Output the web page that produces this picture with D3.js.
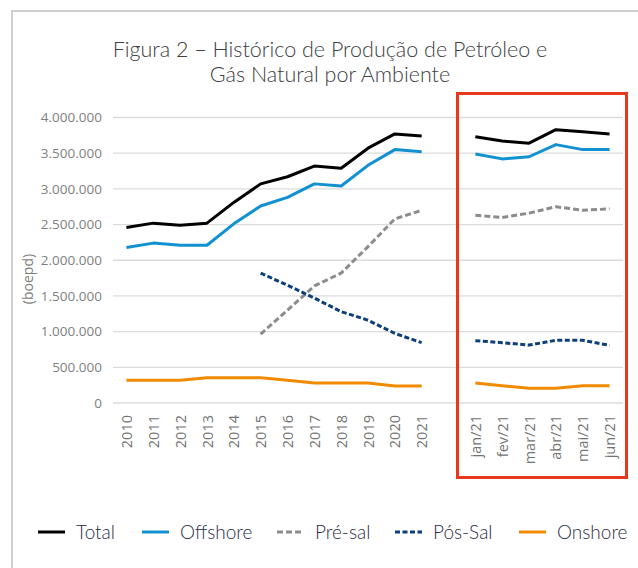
<!DOCTYPE html>
<html>
<head>
<meta charset="utf-8">
<script src="https://cdn.jsdelivr.net/npm/d3@7"></script>
<style>
  body { margin: 0; background: #fff; }
  svg { display: block; }
</style>
</head>
<body>
<div id="vis"></div>
<script>
// chart data
const years = ["2010", "2011", "2012", "2013", "2014", "2015", "2016", "2017", "2018", "2019", "2020", "2021"];
const months = ["jan/21", "fev/21", "mar/21", "abr/21", "mai/21", "jun/21"];

// yearly values (boepd); null = no data
const totalYears    = [2460000, 2520000, 2490000, 2520000, 2810000, 3070000, 3170000, 3320000, 3290000, 3570000, 3770000, 3740000];
const offshoreYears = [2180000, 2240000, 2210000, 2210000, 2510000, 2760000, 2880000, 3070000, 3040000, 3330000, 3550000, 3520000];
const preSalYears   = [null, null, null, null, null, 965000, 1300000, 1640000, 1820000, 2190000, 2580000, 2700000];
const posSalYears   = [null, null, null, null, null, 1820000, 1650000, 1470000, 1280000, 1160000, 975000, 845000];
const onshoreYears  = [318000, 318000, 318000, 354000, 354000, 354000, 318000, 280000, 280000, 280000, 238000, 238000];

// monthly values 2021
const totalMonths    = [3730000, 3670000, 3640000, 3830000, 3800000, 3770000];
const offshoreMonths = [3490000, 3420000, 3450000, 3620000, 3550000, 3550000];
const preSalMonths   = [2630000, 2600000, 2660000, 2750000, 2700000, 2720000];
const posSalMonths   = [873000, 845000, 812000, 878000, 878000, 808000];
const onshoreMonths  = [280000, 242000, 206000, 206000, 242000, 242000];

const yTicks = [0, 500000, 1000000, 1500000, 2000000, 2500000, 3000000, 3500000, 4000000];

const series = [
  {name: "Total",    color: "#000000", dash: null,    years: totalYears,    months: totalMonths},
  {name: "Offshore", color: "#1190d2", dash: null,    years: offshoreYears, months: offshoreMonths},
  {name: "Pré-sal",  color: "#8c8c8c", dash: "6,3",   years: preSalYears,   months: preSalMonths},
  {name: "Pós-Sal",  color: "#0d3f7c", dash: "5,2.5", years: posSalYears,   months: posSalMonths},
  {name: "Onshore",  color: "#f28a00", dash: null,    years: onshoreYears,  months: onshoreMonths}
];

const WIDTH = 638, HEIGHT = 568;
const GAP = "gap";
const categories = years.concat([GAP], months);

const svg = d3.select("#vis").append("svg")
  .attr("width", WIDTH)
  .attr("height", HEIGHT);

// outer frame (only left and top visible)
svg.append("path")
  .attr("d", "M12,568 L12,11 L638,11")
  .attr("fill", "none")
  .attr("stroke", "#cfcfcf")
  .attr("stroke-width", 2);

// title
const title = svg.append("text")
  .attr("text-anchor", "middle")
  .attr("font-family", "Lato, 'Open Sans', sans-serif")
  .attr("font-weight", 300)
  .attr("font-size", 21.5)
  .attr("fill", "#404040");
title.append("tspan").attr("x", 330).attr("y", 57).text("Figura 2 – Histórico de Produção de Petróleo e");
title.append("tspan").attr("x", 330).attr("y", 82).text("Gás Natural por Ambiente");

const x = d3.scalePoint()
  .domain(categories)
  .range([113, 623])
  .padding(0.5);

const y = d3.scaleLinear()
  .domain([0, 4000000])
  .range([403, 117.5]);

const fmt = v => d3.format(",")(v).replace(/,/g, ".");

// gridlines
svg.append("g")
  .selectAll("line")
  .data(yTicks)
  .enter()
  .append("line")
  .attr("x1", 113)
  .attr("x2", 623)
  .attr("y1", d => y(d))
  .attr("y2", d => y(d))
  .attr("stroke", "#dcdcdc")
  .attr("stroke-width", 1.3);

// y axis labels
const yAxis = d3.axisLeft(y).tickValues(yTicks).tickFormat(fmt).tickSize(0).tickPadding(0);
const yG = svg.append("g")
  .attr("transform", "translate(102,0)")
  .call(yAxis);
yG.select(".domain").remove();
yG.selectAll("text")
  .attr("font-family", "'Open Sans', sans-serif")
  .attr("font-size", 13.5)
  .attr("fill", "#7f7f7f");

svg.append("text")
  .attr("transform", "translate(33,279) rotate(-90)")
  .attr("text-anchor", "middle")
  .attr("font-family", "'Open Sans', sans-serif")
  .attr("font-size", 14)
  .attr("fill", "#7f7f7f")
  .text("(boepd)");

// x axis labels
const xAxis = d3.axisBottom(x).tickSize(0).tickPadding(0)
  .tickFormat(d => d === GAP ? "" : d);
const xG = svg.append("g")
  .attr("transform", "translate(0,415)")
  .call(xAxis);
xG.select(".domain").remove();
xG.selectAll("text")
  .attr("font-family", "'Open Sans', sans-serif")
  .attr("font-size", 14.5)
  .attr("fill", "#737373")
  .attr("text-anchor", "end")
  .attr("dy", "0.35em")
  .attr("transform", "rotate(-90)");

// lines
const line = d3.line()
  .defined(d => d.v !== null)
  .x(d => x(d.c))
  .y(d => y(d.v));

series.forEach(s => {
  const parts = [
    years.map((c, i) => ({c: c, v: s.years[i]})),
    months.map((c, i) => ({c: c, v: s.months[i]}))
  ];
  parts.forEach(p => {
    svg.append("path")
      .datum(p)
      .attr("d", line)
      .attr("fill", "none")
      .attr("stroke", s.color)
      .attr("stroke-width", 3)
      .attr("stroke-dasharray", s.dash)
      .attr("stroke-linejoin", "round");
  });
});

// red highlight box
svg.append("rect")
  .attr("x", 457.5)
  .attr("y", 93.5)
  .attr("width", 169)
  .attr("height", 384)
  .attr("fill", "none")
  .attr("stroke", "#e8381b")
  .attr("stroke-width", 3);

// legend
const legendX = [38, 142, 277, 395, 519];
const legend = svg.append("g");
series.forEach((s, i) => {
  legend.append("line")
    .attr("x1", legendX[i])
    .attr("x2", legendX[i] + 27)
    .attr("y1", 532)
    .attr("y2", 532)
    .attr("stroke", s.color)
    .attr("stroke-width", 3)
    .attr("stroke-dasharray", s.dash);
  legend.append("text")
    .attr("x", legendX[i] + 38)
    .attr("y", 532)
    .attr("dy", "0.35em")
    .attr("font-family", "Lato, 'Open Sans', sans-serif")
    .attr("font-weight", 300)
    .attr("font-size", 19)
    .attr("fill", "#2a2d45")
    .text(s.name);
});
</script>
</body>
</html>
